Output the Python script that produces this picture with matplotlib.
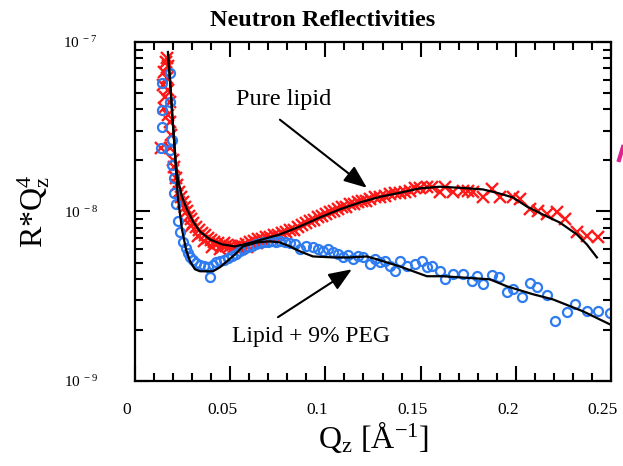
import numpy as np
import matplotlib
matplotlib.use('Agg')
import matplotlib.pyplot as plt
from matplotlib.lines import Line2D
from matplotlib.transforms import ScaledTranslation
from matplotlib.ticker import FixedLocator, FixedFormatter, MultipleLocator, LogLocator, NullFormatter

plt.rcParams['font.family'] = ['Liberation Serif', 'DejaVu Serif']
plt.rcParams['mathtext.fontset'] = 'custom'
plt.rcParams['mathtext.rm'] = 'Liberation Serif'
plt.rcParams['mathtext.it'] = 'Liberation Serif:italic'

# Pure lipid data (red crosses)
q_lipid = [0.0168, 0.0163, 0.0173, 0.0152, 0.0168, 0.0147, 0.0173, 0.0158, 0.0184, 0.0152,
           0.0173, 0.0184, 0.0189, 0.0137, 0.0184, 0.0200, 0.0205, 0.0215, 0.0221, 0.0231,
           0.0242, 0.0252, 0.0263, 0.0273, 0.0284, 0.0294, 0.0305, 0.0320, 0.0336, 0.0352,
           0.0368, 0.0383, 0.0399, 0.0415, 0.0436, 0.0457, 0.0478, 0.0499, 0.0520, 0.0541,
           0.0562, 0.0583, 0.0604, 0.0625, 0.0646, 0.0667, 0.0688, 0.0709, 0.0730, 0.0751,
           0.0772, 0.0793, 0.0814, 0.0835, 0.0856, 0.0877, 0.0898, 0.0919, 0.0940, 0.0961,
           0.0982, 0.1003, 0.1024, 0.1045, 0.1066, 0.1087, 0.1108, 0.1129, 0.1150, 0.1171,
           0.1192, 0.1213, 0.1234, 0.1260, 0.1286, 0.1313, 0.1339, 0.1365, 0.1391, 0.1418,
           0.1444, 0.1470, 0.1496, 0.1533, 0.1559, 0.1600, 0.1628, 0.1670, 0.1722, 0.1748,
           0.1775, 0.1827, 0.1874, 0.1916, 0.1985, 0.2021, 0.2074, 0.2116, 0.2163, 0.2216,
           0.2258, 0.2320, 0.2373, 0.2431,
           0.0295, 0.0330, 0.0362, 0.0405, 0.0445, 0.0470, 0.0508, 0.0550, 0.0590, 0.0640]
r_lipid = [8.05e-8, 7.62e-8, 7.22e-8, 6.67e-8, 6.14e-8, 5.58e-8, 5.22e-8, 4.75e-8, 4.44e-8, 4.09e-8,
           3.72e-8, 3.38e-8, 2.84e-8, 2.38e-8, 2.38e-8, 2.02e-8, 1.82e-8, 1.58e-8, 1.44e-8, 1.31e-8,
           1.21e-8, 1.13e-8, 1.06e-8, 1.00e-8, 9.47e-9, 8.97e-9, 8.50e-9, 8.05e-9, 7.73e-9, 7.43e-9,
           7.22e-9, 6.94e-9, 6.75e-9, 6.57e-9, 6.48e-9, 6.31e-9, 6.22e-9, 6.22e-9, 6.14e-9, 6.31e-9,
           6.22e-9, 6.40e-9, 6.57e-9, 6.67e-9, 6.84e-9, 6.84e-9, 7.03e-9, 7.03e-9, 7.22e-9, 7.22e-9,
           7.43e-9, 7.52e-9, 7.73e-9, 7.83e-9, 8.05e-9, 8.27e-9, 8.50e-9, 8.73e-9, 8.85e-9, 9.22e-9,
           9.35e-9, 9.60e-9, 9.87e-9, 1.00e-8, 1.03e-8, 1.06e-8, 1.07e-8, 1.10e-8, 1.11e-8, 1.13e-8,
           1.16e-8, 1.16e-8, 1.19e-8, 1.21e-8, 1.22e-8, 1.24e-8, 1.26e-8, 1.28e-8, 1.29e-8, 1.31e-8,
           1.33e-8, 1.37e-8, 1.37e-8, 1.40e-8, 1.40e-8, 1.31e-8, 1.40e-8, 1.31e-8, 1.32e-8, 1.32e-8,
           1.31e-8, 1.22e-8, 1.35e-8, 1.22e-8, 1.22e-8, 1.18e-8, 1.03e-8, 1.00e-8, 9.60e-9, 9.90e-9,
           8.97e-9, 7.60e-9, 7.13e-9, 7.03e-9,
           8.20e-9, 7.20e-9, 6.70e-9, 6.20e-9, 6.00e-9, 6.50e-9, 5.90e-9, 6.00e-9, 6.20e-9, 6.50e-9]

# Lipid + 9% PEG data (blue circles)
q_peg = [0.0184, 0.0142, 0.0184, 0.0142, 0.0142, 0.0194, 0.0137, 0.0184, 0.0194, 0.0205,
         0.0205, 0.0215, 0.0226, 0.0236, 0.0252, 0.0268, 0.0278, 0.0289, 0.0305, 0.0320,
         0.0341, 0.0362, 0.0383, 0.0394, 0.0410, 0.0425, 0.0446, 0.0467, 0.0488, 0.0509,
         0.0530, 0.0551, 0.0572, 0.0593, 0.0614, 0.0635, 0.0656, 0.0677, 0.0698, 0.0719,
         0.0740, 0.0761, 0.0788, 0.0814, 0.0840, 0.0866, 0.0898, 0.0935, 0.0961, 0.0987,
         0.1013, 0.1040, 0.1066, 0.1092, 0.1118, 0.1145, 0.1171, 0.1197, 0.1234, 0.1260,
         0.1286, 0.1313, 0.1339, 0.1365, 0.1391, 0.1428, 0.1470, 0.1507, 0.1533, 0.1559,
         0.1601, 0.1628, 0.1670, 0.1722, 0.1769, 0.1796, 0.1827, 0.1874, 0.1911, 0.1953,
         0.1985, 0.2032, 0.2074, 0.2111, 0.2163, 0.2205, 0.2268, 0.2310, 0.2373, 0.2431,
         0.2494]
r_peg = [6.58e-8, 5.74e-8, 4.44e-8, 3.98e-8, 3.16e-8, 2.65e-8, 2.38e-8, 2.32e-8, 1.89e-8, 1.58e-8,
         1.29e-8, 1.10e-8, 8.73e-9, 7.52e-9, 6.57e-9, 6.05e-9, 5.66e-9, 5.36e-9, 5.15e-9, 4.94e-9,
         4.81e-9, 4.74e-9, 4.69e-9, 4.09e-9, 4.81e-9, 5.01e-9, 5.08e-9, 5.15e-9, 5.30e-9, 5.43e-9,
         5.58e-9, 5.82e-9, 5.97e-9, 6.14e-9, 6.22e-9, 6.40e-9, 6.48e-9, 6.57e-9, 6.57e-9, 6.67e-9,
         6.57e-9, 6.67e-9, 6.57e-9, 6.48e-9, 6.40e-9, 5.97e-9, 6.22e-9, 6.14e-9, 5.97e-9, 5.82e-9,
         5.97e-9, 5.74e-9, 5.58e-9, 5.36e-9, 5.51e-9, 5.22e-9, 5.43e-9, 5.36e-9, 4.88e-9, 5.22e-9,
         5.01e-9, 5.08e-9, 4.74e-9, 4.44e-9, 5.08e-9, 4.74e-9, 4.88e-9, 5.08e-9, 4.69e-9, 4.74e-9,
         4.44e-9, 3.98e-9, 4.26e-9, 4.26e-9, 3.87e-9, 4.15e-9, 3.72e-9, 4.21e-9, 4.09e-9, 3.34e-9,
         3.48e-9, 3.12e-9, 3.77e-9, 3.57e-9, 3.21e-9, 2.25e-9, 2.55e-9, 2.84e-9, 2.58e-9, 2.58e-9,
         2.51e-9]

# Fit curves
q_fit_lipid = [0.0173, 0.0184, 0.0194, 0.0205, 0.0215, 0.0226, 0.0247, 0.0273, 0.0305, 0.0341,
               0.0394, 0.0457, 0.0525, 0.0593, 0.0667, 0.0761, 0.0866, 0.0971, 0.1076, 0.1181,
               0.1286, 0.1391, 0.1496, 0.1601, 0.1706, 0.1827, 0.1900, 0.1985, 0.2058, 0.2142,
               0.2231, 0.2321, 0.2373, 0.2426]
r_fit_lipid = [8.73e-8, 5.97e-8, 3.98e-8, 2.65e-8, 1.89e-8, 1.54e-8, 1.22e-8, 1.03e-8, 8.73e-9, 7.62e-9,
               6.84e-9, 6.40e-9, 6.22e-9, 6.48e-9, 6.84e-9, 7.32e-9, 8.16e-9, 9.22e-9, 1.03e-8, 1.13e-8,
               1.22e-8, 1.29e-8, 1.37e-8, 1.40e-8, 1.38e-8, 1.35e-8, 1.29e-8, 1.21e-8, 1.07e-8, 9.60e-9,
               8.61e-9, 7.32e-9, 6.40e-9, 5.36e-9]

q_fit_peg = [0.0173, 0.0184, 0.0194, 0.0205, 0.0215, 0.0226, 0.0247, 0.0268, 0.0289, 0.0315,
             0.0341, 0.0410, 0.0446, 0.0483, 0.0525, 0.0567, 0.0604, 0.0641, 0.0709, 0.0761,
             0.0814, 0.0866, 0.0935, 0.1040, 0.1129, 0.1218, 0.1271, 0.1391, 0.1533, 0.1617,
             0.1864, 0.1953, 0.2090, 0.2195, 0.2352, 0.2494]
r_fit_peg = [8.39e-8, 5.97e-8, 3.98e-8, 2.65e-8, 1.77e-8, 1.18e-8, 7.83e-9, 5.97e-9, 5.08e-9, 4.56e-9,
             4.44e-9, 4.44e-9, 4.69e-9, 5.08e-9, 5.58e-9, 6.22e-9, 6.40e-9, 6.57e-9, 6.67e-9, 6.57e-9,
             6.22e-9, 5.82e-9, 5.43e-9, 5.36e-9, 5.36e-9, 5.43e-9, 5.22e-9, 4.74e-9, 4.15e-9, 4.15e-9,
             3.98e-9, 3.62e-9, 3.25e-9, 3.03e-9, 2.58e-9, 2.16e-9]

y_ticks = [1e-9, 1e-8, 1e-7]
y_labels = [r'$\mathregular{10^{\ -9}}$', r'$\mathregular{10^{\ -8}}$', r'$\mathregular{10^{\ -7}}$']
x_ticks = [0, 0.05, 0.1, 0.15, 0.2, 0.25]
x_labels = ['0', '0.05', '0.1', '0.15', '0.2', '0.25']

fig = plt.figure(figsize=(6.23, 4.66), dpi=100)
ax = fig.add_axes([0.2167, 0.1824, 0.764, 0.7275])

ax.plot(q_lipid, r_lipid, 'x', color='#ff1a1a', ms=8.5, mew=1.7, zorder=2)
ax.plot(q_peg, r_peg, 'o', color='#2f7cf0', mfc='none', ms=6.5, mew=1.6, zorder=2)
ax.plot(q_fit_lipid, r_fit_lipid, color='black', lw=1.6, zorder=3)
ax.plot(q_fit_peg, r_fit_peg, color='black', lw=1.6, zorder=3)

ax.set_yscale('log')
ax.set_xlim(0, 0.25)
ax.set_ylim(1e-9, 1e-7)

ax.yaxis.set_major_locator(FixedLocator(y_ticks))
ax.yaxis.set_major_formatter(FixedFormatter(y_labels))
ax.yaxis.set_minor_locator(LogLocator(base=10, subs=np.arange(2, 10)))
ax.yaxis.set_minor_formatter(NullFormatter())
ax.xaxis.set_major_locator(FixedLocator(x_ticks))
ax.xaxis.set_major_formatter(FixedFormatter(x_labels))
ax.xaxis.set_minor_locator(MultipleLocator(0.01))

ax.tick_params(which='both', direction='in', top=True, right=True, width=1.5)
ax.tick_params(which='major', length=11)
ax.tick_params(which='minor', length=5.5)
ax.tick_params(axis='y', which='major', pad=27, labelsize=11)
ax.tick_params(axis='x', which='major', pad=15, labelsize=12.5)
for s in ax.spines.values():
    s.set_linewidth(1.6)

# x tick labels sit a little left of their ticks in the original
shift = ScaledTranslation(-8 / 100, 0, fig.dpi_scale_trans)
for lab in ax.get_xticklabels():
    lab.set_transform(lab.get_transform() + shift)

ax.set_xlabel(r'Q$_{\mathregular{z}}$ [Å$^{\mathregular{-1}}$]', fontsize=23, labelpad=1)
ax.set_ylabel(r'R*Q$_{\mathregular{z}}^{\mathregular{4}}$', fontsize=23, labelpad=8)

fig.text(0.518, 0.955, 'Neutron Reflectivities', ha='center', va='center',
         fontsize=17.5, fontweight='bold')

arrow = dict(arrowstyle='-|>,head_length=0.7,head_width=0.28', color='black', lw=1.5,
             mutation_scale=20, shrinkA=0, shrinkB=0)
ax.annotate('', xy=(0.1218, 1.38e-8), xytext=(0.0761, 3.48e-8), arrowprops=arrow)
ax.text(0.0782, 4.56e-8, 'Pure lipid', ha='center', va='center', fontsize=17.5)
ax.annotate('', xy=(0.1139, 4.56e-9), xytext=(0.0751, 2.38e-9), arrowprops=arrow)
ax.text(0.0924, 1.82e-9, 'Lipid + 9% PEG', ha='center', va='center', fontsize=17)

# sliver of a magenta mark cut off at the right edge
fig.add_artist(Line2D([619 / 623, 623 / 623], [1 - 160 / 466, 1 - 147 / 466],
                      color='#e0208f', lw=3, transform=fig.transFigure))

fig.savefig('out.png', dpi=100)
